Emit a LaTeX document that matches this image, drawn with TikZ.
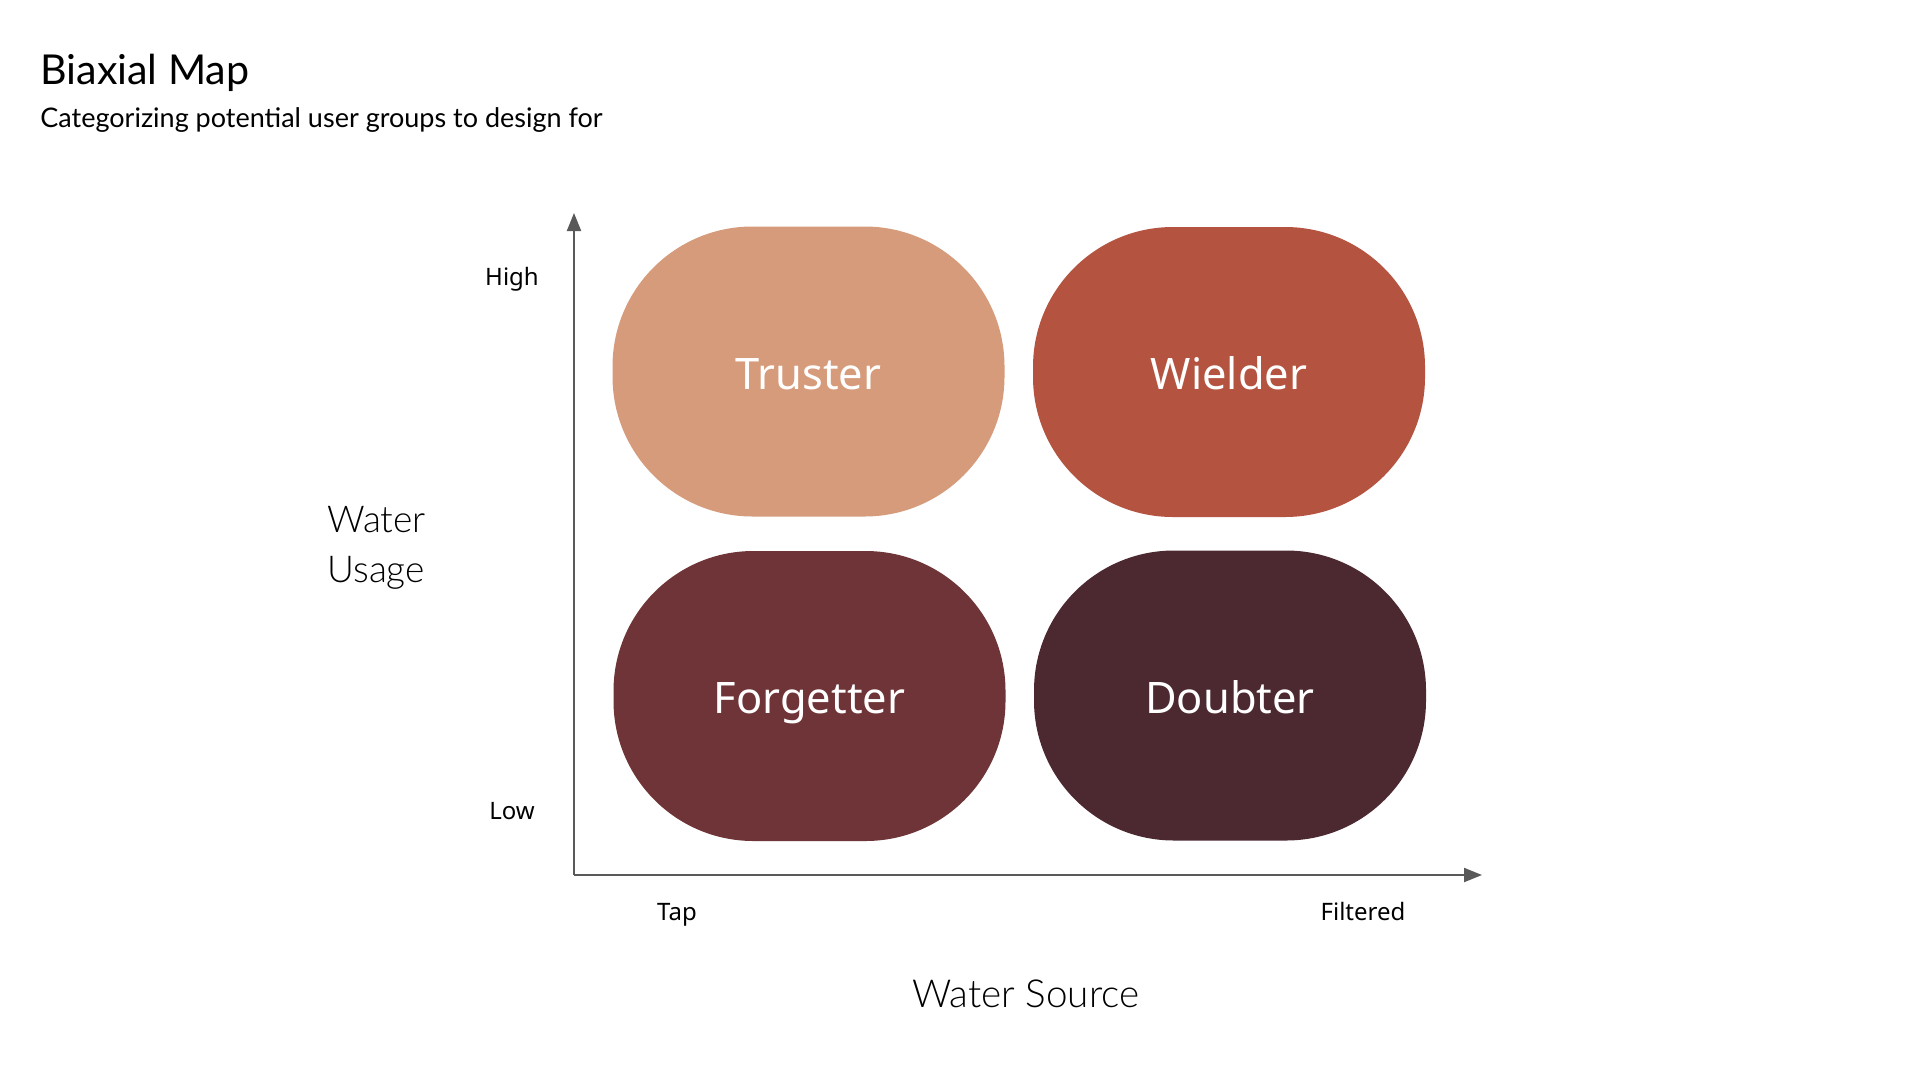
\documentclass[tikz,border=0pt]{standalone}
\usepackage{fontspec}
\usetikzlibrary{arrows.meta}
\setmainfont{Lato}
\newfontfamily\labfont{Noto Sans}
\IfFontExistsTF{Lato Light}{\newfontfamily\lightfont{Lato Light}}{\newfontfamily\lightfont{Lato}}
\definecolor{cTruster}{RGB}{214,155,123}
\definecolor{cWielder}{RGB}{179,83,64}
\definecolor{cForgetter}{RGB}{111,52,55}
\definecolor{cDoubter}{RGB}{76,40,48}
\definecolor{axisgray}{RGB}{89,89,89}
\tikzset{
  blob/.style={rounded corners=70pt, minimum width=196pt, minimum height=145pt, inner sep=0pt,
     text height=17.8pt, text depth=0pt,
     text=white, font=\labfont\fontsize{21.7}{26}\selectfont},
  axislbl/.style={font=\labfont\fontsize{12}{15}\selectfont, text=black, inner sep=0pt, anchor=base},
  axisline/.style={draw=axisgray, line width=1pt, -{Triangle[length=9pt,width=7pt]}},
}
\begin{document}
\begin{tikzpicture}[x=0.5pt,y=-0.5pt]
\useasboundingbox[fill=white] (0,0) rectangle (1920,1071);
% title
\node[anchor=base west, inner sep=0pt, font=\fontsize{20.6}{24}\selectfont] (title) at (40,84) {Biaxial Map};
\node[anchor=base west, inner sep=0pt, font=\fontsize{13.5}{16}\selectfont] (subtitle) at (40,127) {Categorizing potential user groups to design for};
% quadrants
\node[blob, fill=cTruster] (truster) at (808.5,371.5) {Truster};
\node[blob, fill=cWielder] (wielder) at (1229,372) {Wielder};
\node[blob, fill=cForgetter] (forgetter) at (809.5,696) {Forgetter};
\node[blob, fill=cDoubter] (doubter) at (1230,695.5) {Doubter};
% axes
\coordinate (origin) at (574,875);
\coordinate (ytip) at (574,213);
\coordinate (xtip) at (1482,875);
\draw[axisline] (origin) -- (ytip);
\draw[axisline] (origin) -- (xtip);
% axis labels
\node[axislbl] (high) at (512,285) {High};
\node[axislbl] (low) at (512,819) {Low};
\node[axislbl] (tap) at (677,920) {Tap};
\node[axislbl] (filtered) at (1363,920) {Filtered};
\node[anchor=west, align=left, inner sep=0pt, font=\lightfont\fontsize{18.5}{25}\selectfont] (usage) at (327,548) {Water\\Usage};
\node[anchor=base, inner sep=0pt, font=\lightfont\fontsize{19.3}{22}\selectfont] (source) at (1026,1007) {Water Source};
\end{tikzpicture}
\end{document}
